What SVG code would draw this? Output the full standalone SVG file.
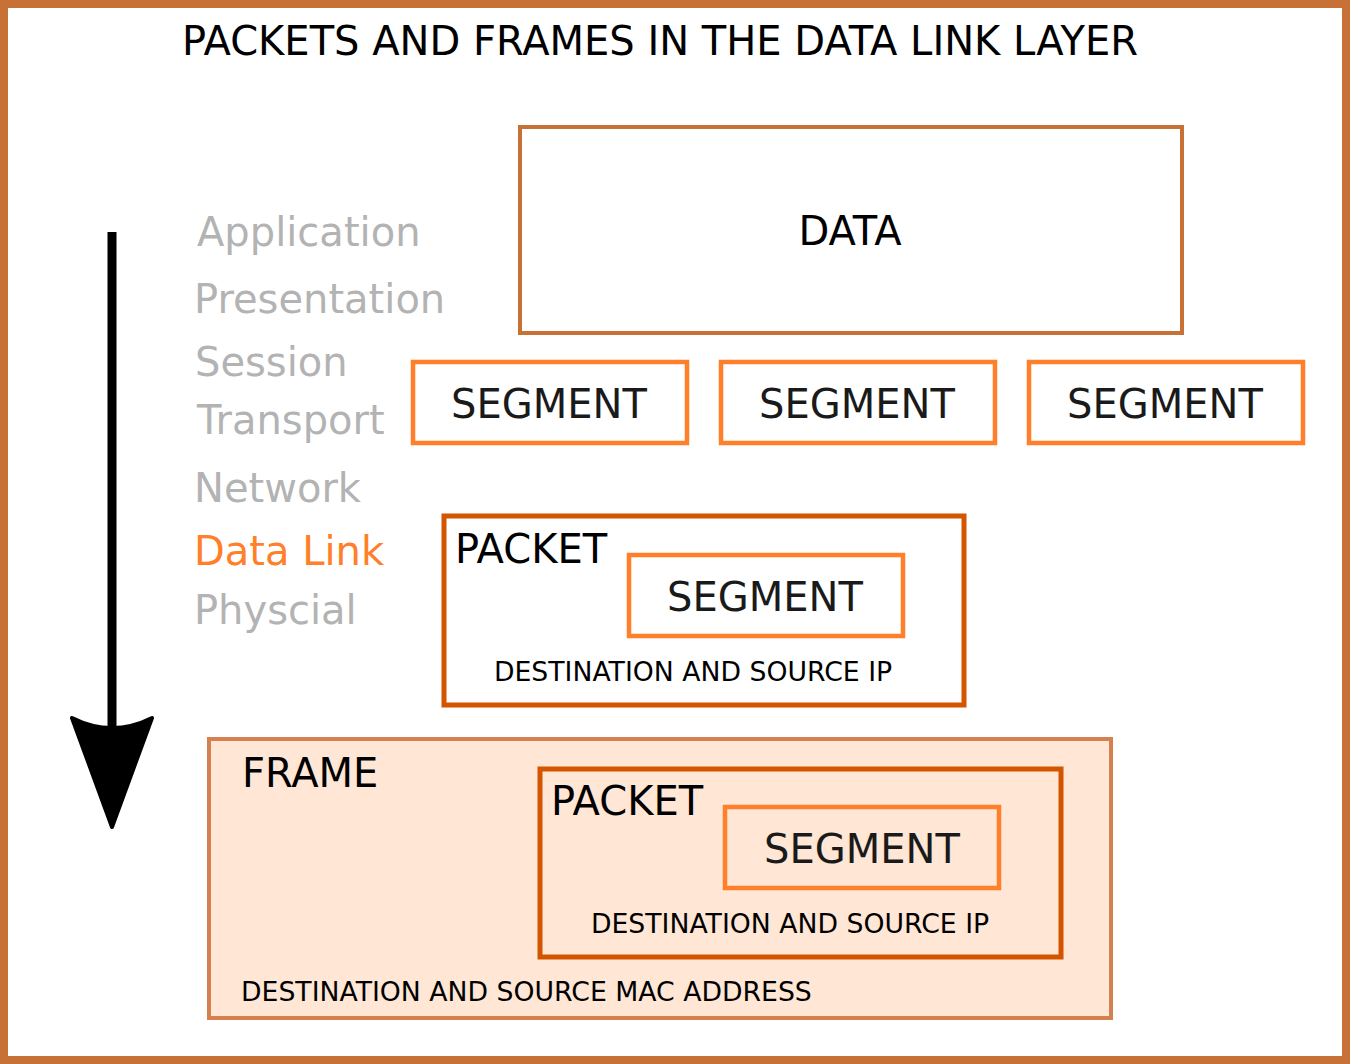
<svg xmlns="http://www.w3.org/2000/svg" width="1350" height="1064" viewBox="0 0 1350 1064">
<style>
text{font-family:"DejaVu Sans","Verdana",sans-serif;fill:#000}
.big{font-size:40px}
.small{font-size:26.7px}
.layer{font-size:40px;fill:#b3b3b3}
.seg{fill:#fff;stroke:#ff7f2a;stroke-width:4.5}
.segt{fill:#1a1a1a}
.pkt{fill:none;stroke:#d45500;stroke-width:5}
</style>
<rect x="4" y="4" width="1342" height="1056" fill="#fff" stroke="#c87137" stroke-width="8"/>
<text class="big" x="660" y="55" text-anchor="middle">PACKETS AND FRAMES IN THE DATA LINK LAYER</text>
<g id="layers">
<text class="layer" x="197" y="246">Application</text>
<text class="layer" x="194" y="313">Presentation</text>
<text class="layer" x="195" y="376">Session</text>
<text class="layer" x="197" y="434">Transport</text>
<text class="layer" x="194" y="502">Network</text>
<text class="layer" x="194" y="565" style="fill:#ff7f2a">Data Link</text>
<text class="layer" x="194" y="624">Physcial</text>
</g>
<g id="connectors">
<line x1="112" y1="232" x2="112" y2="735" stroke="#000" stroke-width="9"/>
<path d="M112,827 L72,718 Q112,738 152,718 Z" fill="#000" stroke="#000" stroke-width="4" stroke-linejoin="round"/>
</g>
<g id="data">
<rect x="520" y="127" width="662" height="206" fill="#fff" stroke="#c87137" stroke-width="4"/>
<text class="big" x="850" y="245" text-anchor="middle">DATA</text>
</g>
<g id="segment1">
<rect class="seg" x="413" y="362" width="274" height="81"/>
<text class="big segt" x="549" y="418" text-anchor="middle">SEGMENT</text>
</g>
<g id="segment2">
<rect class="seg" x="721" y="362" width="274" height="81"/>
<text class="big segt" x="857" y="418" text-anchor="middle">SEGMENT</text>
</g>
<g id="segment3">
<rect class="seg" x="1029" y="362" width="274" height="81"/>
<text class="big segt" x="1165" y="418" text-anchor="middle">SEGMENT</text>
</g>
<g id="packet">
<rect class="pkt" x="444" y="516" width="520" height="189" style="fill:#fff"/>
<text class="big" x="455" y="563">PACKET</text>
<rect class="seg" x="629" y="555" width="274" height="81"/>
<text class="big segt" x="765" y="611" text-anchor="middle">SEGMENT</text>
<text class="small" x="693" y="681" text-anchor="middle">DESTINATION AND SOURCE IP</text>
</g>
<g id="frame">
<rect x="209" y="739" width="902" height="279" fill="#ffe6d5" stroke="#d4814f" stroke-width="4"/>
<text class="big" x="242" y="787">FRAME</text>
<rect class="pkt" x="540" y="769" width="521" height="188"/>
<text class="big" x="551" y="815">PACKET</text>
<rect class="seg" x="725" y="807" width="274" height="81" style="fill:none"/>
<text class="big segt" x="862" y="863" text-anchor="middle">SEGMENT</text>
<text class="small" x="790" y="933" text-anchor="middle">DESTINATION AND SOURCE IP</text>
<text class="small" x="241" y="1001">DESTINATION AND SOURCE MAC ADDRESS</text>
</g>
</svg>
